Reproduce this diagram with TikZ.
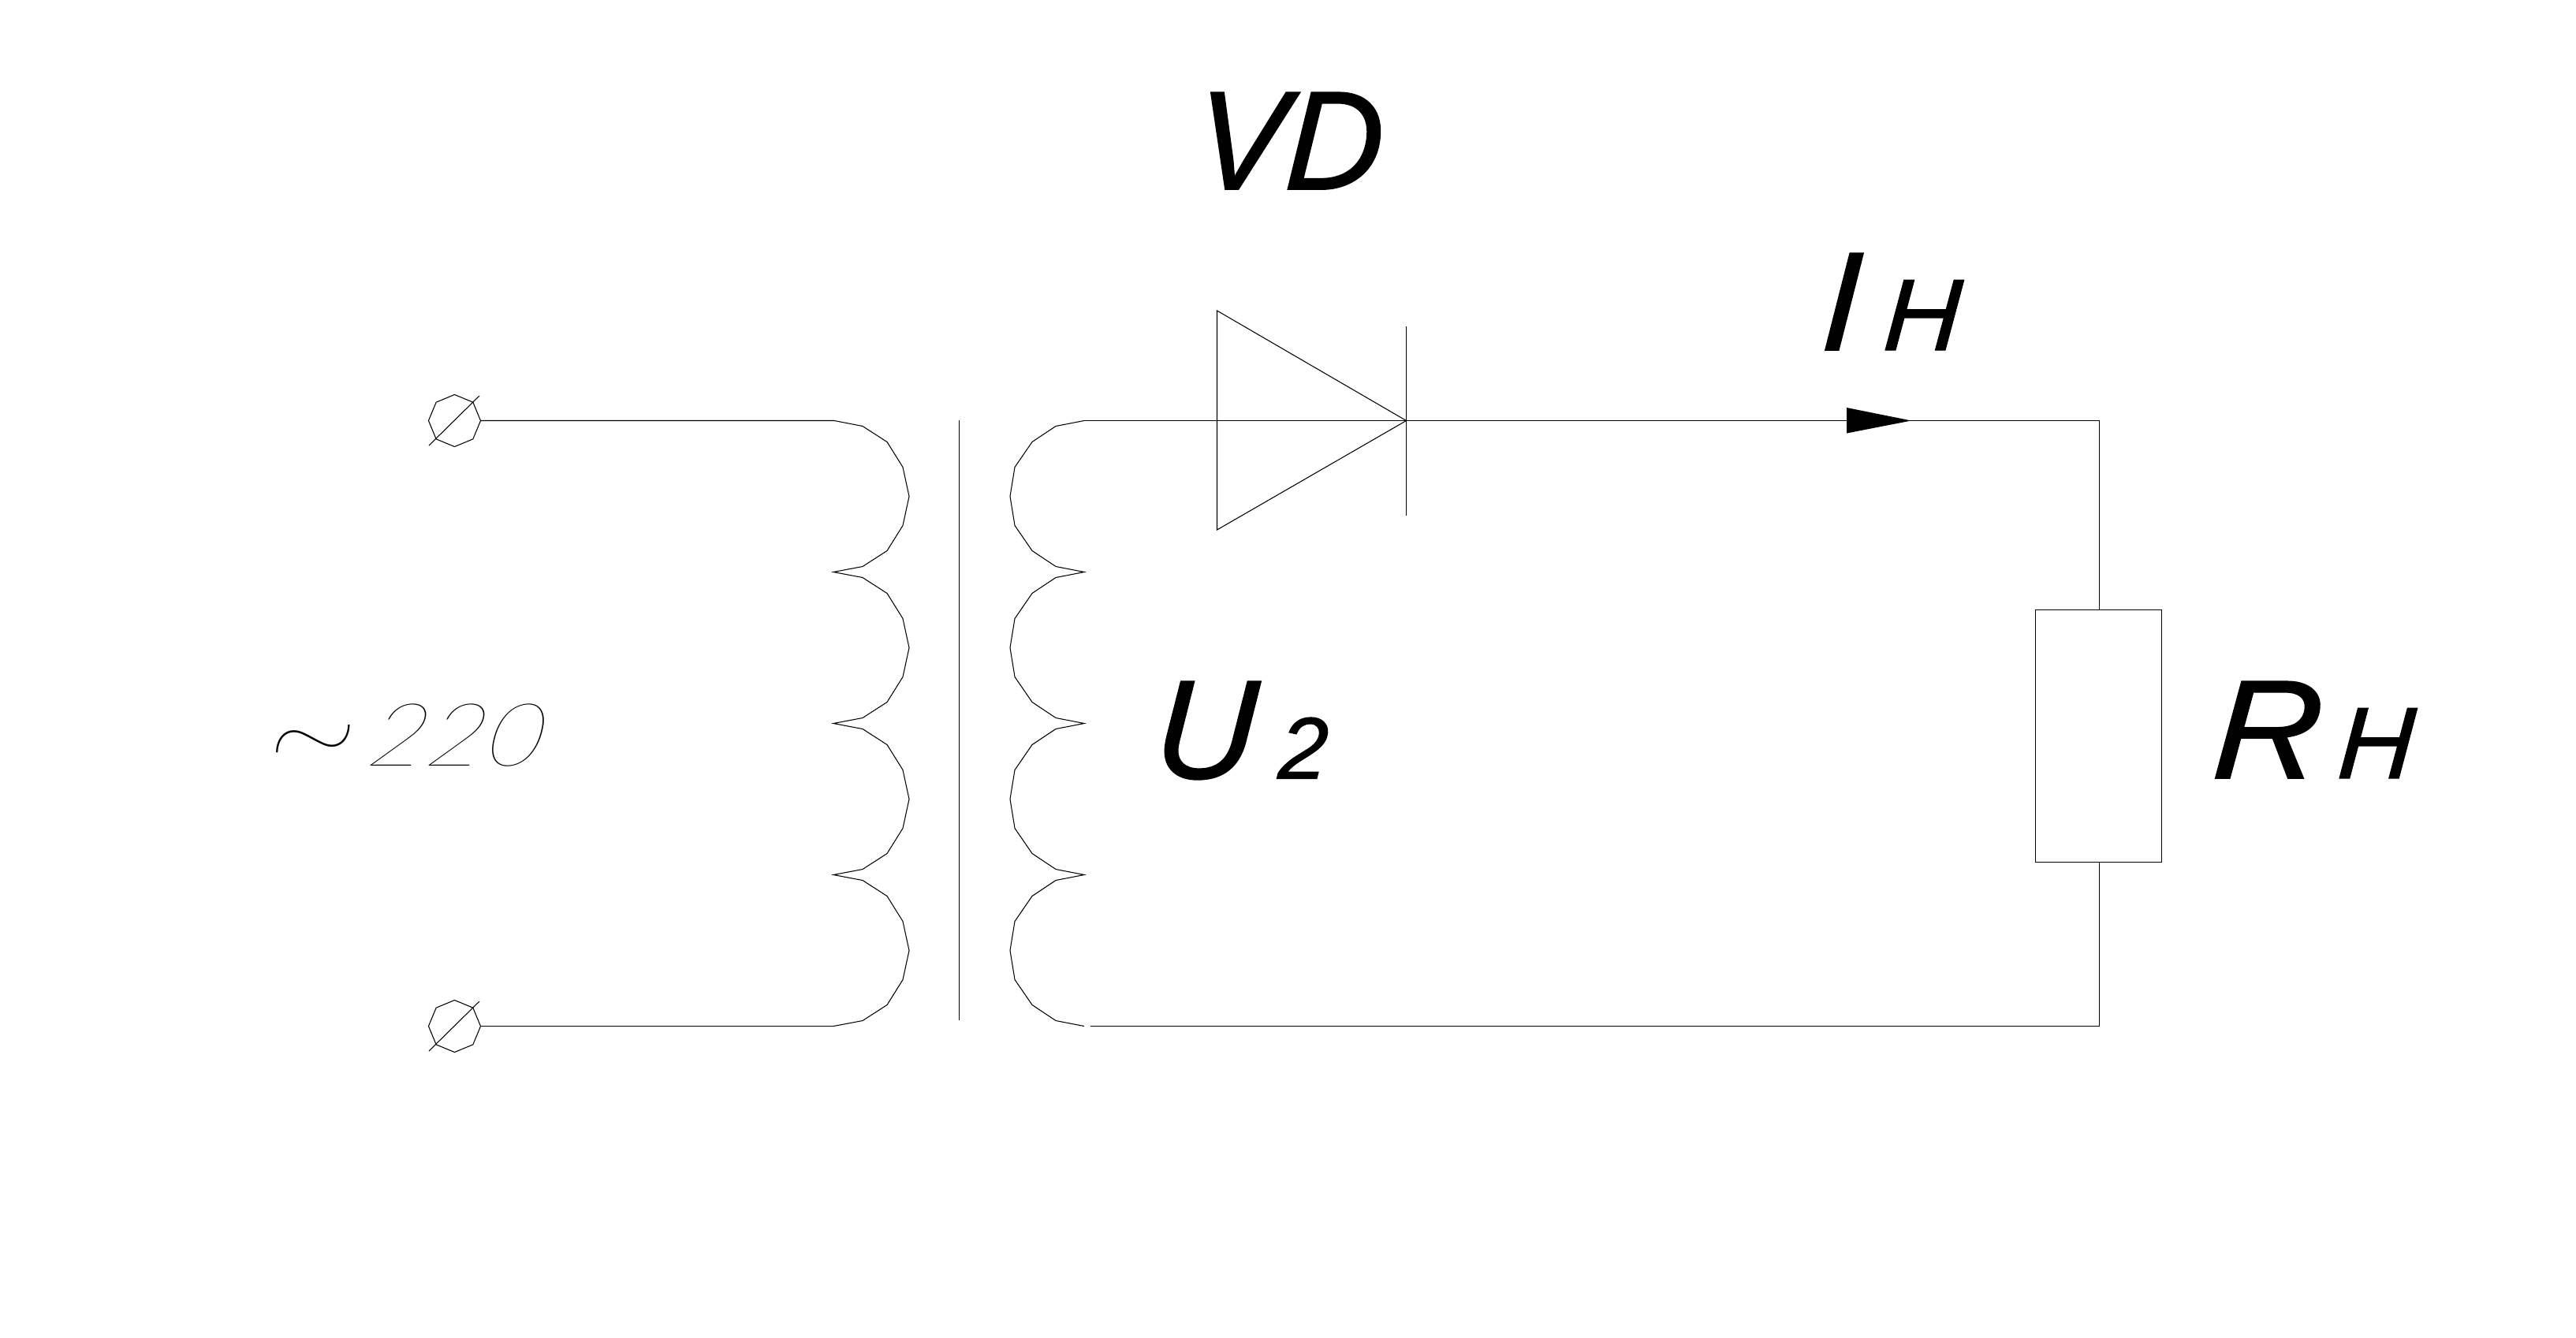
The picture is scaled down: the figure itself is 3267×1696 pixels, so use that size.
\documentclass[tikz,border=0pt]{standalone}
\usepackage{fontspec}
\usetikzlibrary{shapes.geometric}
\setmainfont{Liberation Sans}
\newfontfamily\thinfont{Lato Hairline Italic}[FakeSlant=0.18]
\newfontfamily\thintilde{Lato Hairline}
\newfontfamily\labelfont{Liberation Sans Italic}[FakeBold=1.0,FakeSlant=0.06]
\tikzset{
  wire/.style={draw=black,line width=0.3pt,line join=miter},
  terminal/.style={wire,shape=regular polygon,regular polygon sides=8,shape border rotate=22.5,minimum size=0.66cm,inner sep=0pt,outer sep=0pt},
  lbl/.style={inner sep=0pt,outer sep=0pt,anchor=base west,transform shape},
  big/.style={lbl,font=\fontsize{50.7}{52}\selectfont\labelfont},
  small/.style={lbl,font=\fontsize{36.7}{38}\selectfont\labelfont},
  digit/.style={lbl,font=\fontsize{31.6}{33}\selectfont\labelfont},
  thinlbl/.style={lbl,font=\fontsize{31.6}{33}\selectfont\thinfont},
  tildelbl/.style={lbl,font=\fontsize{31.6}{33}\selectfont\thintilde}
}
\newcommand{\loopR}[2]{-- (#1+36,#2+7) -- (#1+67,#2+27) -- (#1+87,#2+59) -- (#1+95,#2+96) -- (#1+87,#2+133) -- (#1+67,#2+165) -- (#1+36,#2+185) -- (#1-1,#2+192)}
\newcommand{\loopL}[2]{-- (#1-36,#2+7) -- (#1-66,#2+27) -- (#1-88,#2+59) -- (#1-94,#2+96) -- (#1-88,#2+133) -- (#1-66,#2+165) -- (#1-36,#2+185) -- (#1,#2+192)}
\begin{document}
\begin{tikzpicture}[x=0.01cm,y=-0.01cm]
\useasboundingbox (0,0) rectangle (3267,1696);
% terminals
\node[terminal] (t1) at (576.5,533.5) {};
\node[terminal] (t2) at (576.5,1301.5) {};
\coordinate (s1a) at (544,565); \coordinate (s1b) at (608,502);
\coordinate (s2a) at (544,1333); \coordinate (s2b) at (608,1270);
\draw[wire] (s1a) -- (s1b);
\draw[wire] (s2a) -- (s2b);
% primary winding
\coordinate (pt) at (1058,533.5);
\coordinate (pb) at (1058,1301.5);
\draw[wire] (t1.east) -- (pt) \loopR{1058}{533.5} \loopR{1058}{725.5} \loopR{1058}{917.5} \loopR{1058}{1109.5};
\draw[wire] (t2.east) -- (pb);
% core
\coordinate (ca) at (1216.5,533); \coordinate (cb) at (1216.5,1294);
\draw[wire] (ca) -- (cb);
% secondary winding
\coordinate (st) at (1375,533.5);
\coordinate (sb) at (1383,1301.5);
\draw[wire] (st) \loopL{1375}{533.5} \loopL{1375}{725.5} \loopL{1375}{917.5} \loopL{1375}{1109.5};
% diode
\coordinate (da) at (1783.5,533.5);
\coordinate (dt) at (1543.5,394); \coordinate (dd) at (1543.5,672);
\coordinate (ba) at (1783.5,414); \coordinate (bb) at (1783.5,654);
\draw[wire] (dt) -- (da) -- (dd) -- cycle;
\draw[wire] (ba) -- (bb);
% resistor
\node[wire,rectangle,minimum width=1.6cm,minimum height=3.2cm,inner sep=0pt,outer sep=0pt] (r) at (2661.5,933.5) {};
\coordinate (c1) at (2662.5,533.5); \coordinate (c2) at (2662.5,1301.5);
\coordinate (r1) at (2662.5,773.5); \coordinate (r2) at (2662.5,1093.5);
\draw[wire] (st) -- (da) -- (c1) -- (r1);
\draw[wire] (r2) -- (c2) -- (sb);
% current arrow
\coordinate (au) at (2342,517); \coordinate (al) at (2342,549.5); \coordinate (at) at (2424,533.5);
\fill[black] (au) -- (at) -- (al) -- cycle;
% labels
\node[big,xscale=0.96] (vd) at (1514,240) {VD};
\node[big] (i) at (2308,444) {I};
\node[small,xscale=1.05] (ih) at (2387,444) {H};
\node[big] (u) at (1462,987) {U};
\node[digit] (u2) at (1620,987.5) {2};
\node[big,xscale=1.07] (rn) at (2804,987) {R};
\node[small,xscale=1.04] (rh) at (2963,987) {H};
\node[tildelbl,xscale=2,yscale=2.3] (til) at (332,1012) {\char`\~};
\node[thinlbl,xscale=1.15] (v) at (463,971) {220};
\end{tikzpicture}
\end{document}
